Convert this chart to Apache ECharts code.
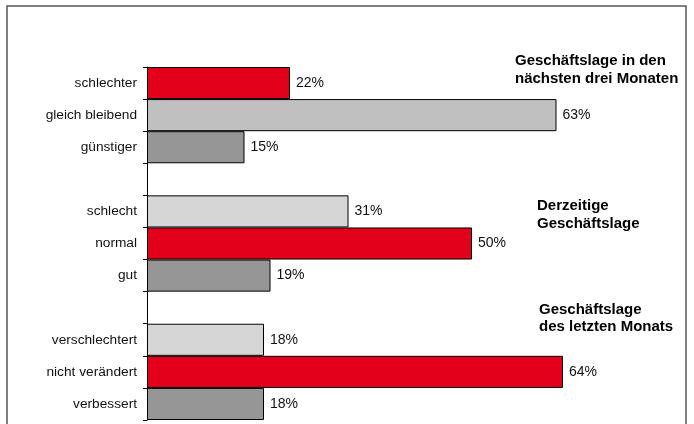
<!DOCTYPE html>
<html>
<head>
<meta charset="utf-8">
<script src="https://cdn.jsdelivr.net/npm/echarts@6/dist/echarts.min.js"></script>
<style>
  html, body { margin: 0; padding: 0; background: #fff; }
  #chart { width: 694px; height: 424px; }
</style>
</head>
<body>
<div id="chart"></div>
<script>
// empty strings are the spacer rows between the three blocks
const categories = [
  'schlechter', 'gleich bleibend', 'günstiger', '',
  'schlecht', 'normal', 'gut', '',
  'verschlechtert', 'nicht verändert', 'verbessert'
];
const values = [22, 63, 15, null, 31, 50, 19, null, 18, 64, 18];
const barColors = [
  '#e2001a', '#c0c0c0', '#969696', null,
  '#d6d6d6', '#e2001a', '#969696', null,
  '#d6d6d6', '#e2001a', '#969696'
];
const groupTitles = [
  'Geschäftslage in den\nnächsten drei Monaten',
  'Derzeitige\nGeschäftslage',
  'Geschäftslage\ndes letzten Monats'
];

const chart = echarts.init(document.getElementById('chart'));
const font = 'Liberation Sans, Arial, sans-serif';

chart.setOption({
  animation: false,
  grid: { left: 147, top: 67, width: 520, bottom: 4 },
  xAxis: {
    type: 'value',
    min: 0,
    max: 80,
    show: false
  },
  yAxis: {
    type: 'category',
    data: categories,
    inverse: true,
    axisLine: { lineStyle: { color: '#000', width: 1 } },
    axisTick: { show: true, length: 4, lineStyle: { color: '#000' } },
    axisLabel: { color: '#111', fontSize: 13.7, fontFamily: font, margin: 10 }
  },
  series: [{
    type: 'bar',
    barCategoryGap: 0,
    data: values.map((v, i) => ({
      value: v,
      itemStyle: { color: barColors[i] || '#fff' }
    })),
    itemStyle: { borderColor: '#000', borderWidth: 1 },
    label: {
      show: true,
      position: 'right',
      distance: 6,
      formatter: p => p.value == null ? '' : p.value + '%',
      color: '#111',
      fontSize: 14,
      fontFamily: font
    }
  }],
  graphic: [
    {
      type: 'rect',
      shape: { x: 7, y: 6, width: 679, height: 430 },
      style: { fill: 'none', stroke: '#555', lineWidth: 1.5 },
      silent: true
    },
    {
      type: 'text', left: 515, top: 52,
      style: { text: groupTitles[0], font: 'bold 15px ' + font, fill: '#000', lineHeight: 18 }
    },
    {
      type: 'text', left: 537, top: 197,
      style: { text: groupTitles[1], font: 'bold 15px ' + font, fill: '#000', lineHeight: 18 }
    },
    {
      type: 'text', left: 539, top: 301,
      style: { text: groupTitles[2], font: 'bold 15px ' + font, fill: '#000', lineHeight: 17 }
    }
  ]
});
</script>
</body>
</html>
